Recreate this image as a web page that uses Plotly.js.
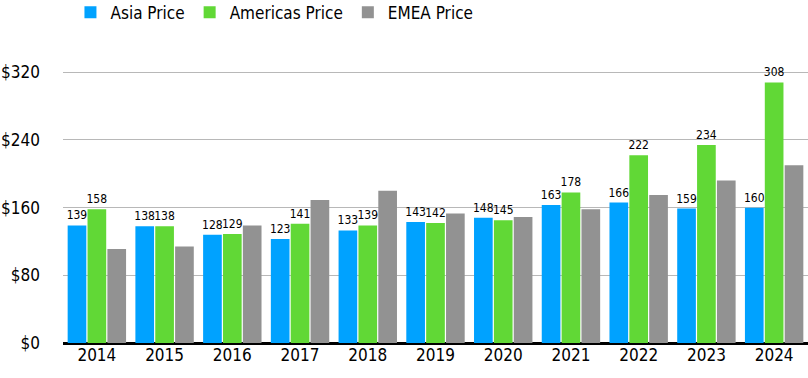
<!DOCTYPE html>
<html>
<head>
<meta charset="utf-8">
<script src="https://cdn.plot.ly/plotly-3.0.1.min.js"></script>
<style>html,body{margin:0;padding:0;background:#fff;}#chart{width:808px;height:378px;}</style>
</head>
<body>
<div id="chart"></div>
<script>
const years = ["2014","2015","2016","2017","2018","2019","2020","2021","2022","2023","2024"];
const asiaPrice = [139,138,128,123,133,143,148,163,166,159,160];
const americasPrice = [158,138,129,141,139,142,145,178,222,234,308];
const emeaPrice = [111,114,139,169,180,153,149,158,175,192,210];
const yTicks = [0,80,160,240,320];
const yTickLabels = ["$0","$80","$160","$240","$320"];

const FONT = "'Liberation Sans Narrow', 'DejaVu Sans Condensed', Lato, sans-serif";

const traces = [
  {name:"Asia Price", x:years, y:asiaPrice, color:"#00a2ff", labels:true},
  {name:"Americas Price", x:years, y:americasPrice, color:"#61d836", labels:true},
  {name:"EMEA Price", x:years, y:emeaPrice, color:"#929292", labels:false}
].map(s => ({
  type:"bar", name:s.name, x:s.x, y:s.y,
  marker:{color:s.color, line:{width:0}},
  text: s.labels ? s.y.map(String) : undefined,
  textposition: s.labels ? "outside" : "none",
  constraintext:"none",
  textfont:{family:FONT, size:12, color:"#000"},
  cliponaxis:false,
  hoverinfo:"x+y"
}));

const layout = {
  width:808, height:378,
  margin:{l:63, r:0, t:63, b:35, autoexpand:false},
  paper_bgcolor:"#fff", plot_bgcolor:"#fff",
  font:{family:FONT, color:"#000", size:17},
  barmode:"group", bargap:0.12, bargroupgap:0.06,
  showlegend:true,
  legend:{orientation:"h", x:0.01, xanchor:"left", y:1.18, yanchor:"middle",
          font:{family:FONT, size:17, color:"#000"}, itemwidth:30, traceorder:"normal"},
  xaxis:{type:"category", showgrid:false, showline:false, ticks:"", zeroline:false,
         tickfont:{family:FONT, size:17, color:"#000"}},
  yaxis:{range:[0,331], tickvals:yTicks, ticktext:yTickLabels, showgrid:true,
         gridcolor:"#b8b8b8", gridwidth:1, zeroline:true, zerolinecolor:"#000", zerolinewidth:3,
         showline:false, ticks:"", ticklabelstandoff:22,
         tickfont:{family:FONT, size:17, color:"#000"}}
};

Plotly.newPlot("chart", traces, layout, {displayModeBar:false, staticPlot:true});
</script>
</body>
</html>
